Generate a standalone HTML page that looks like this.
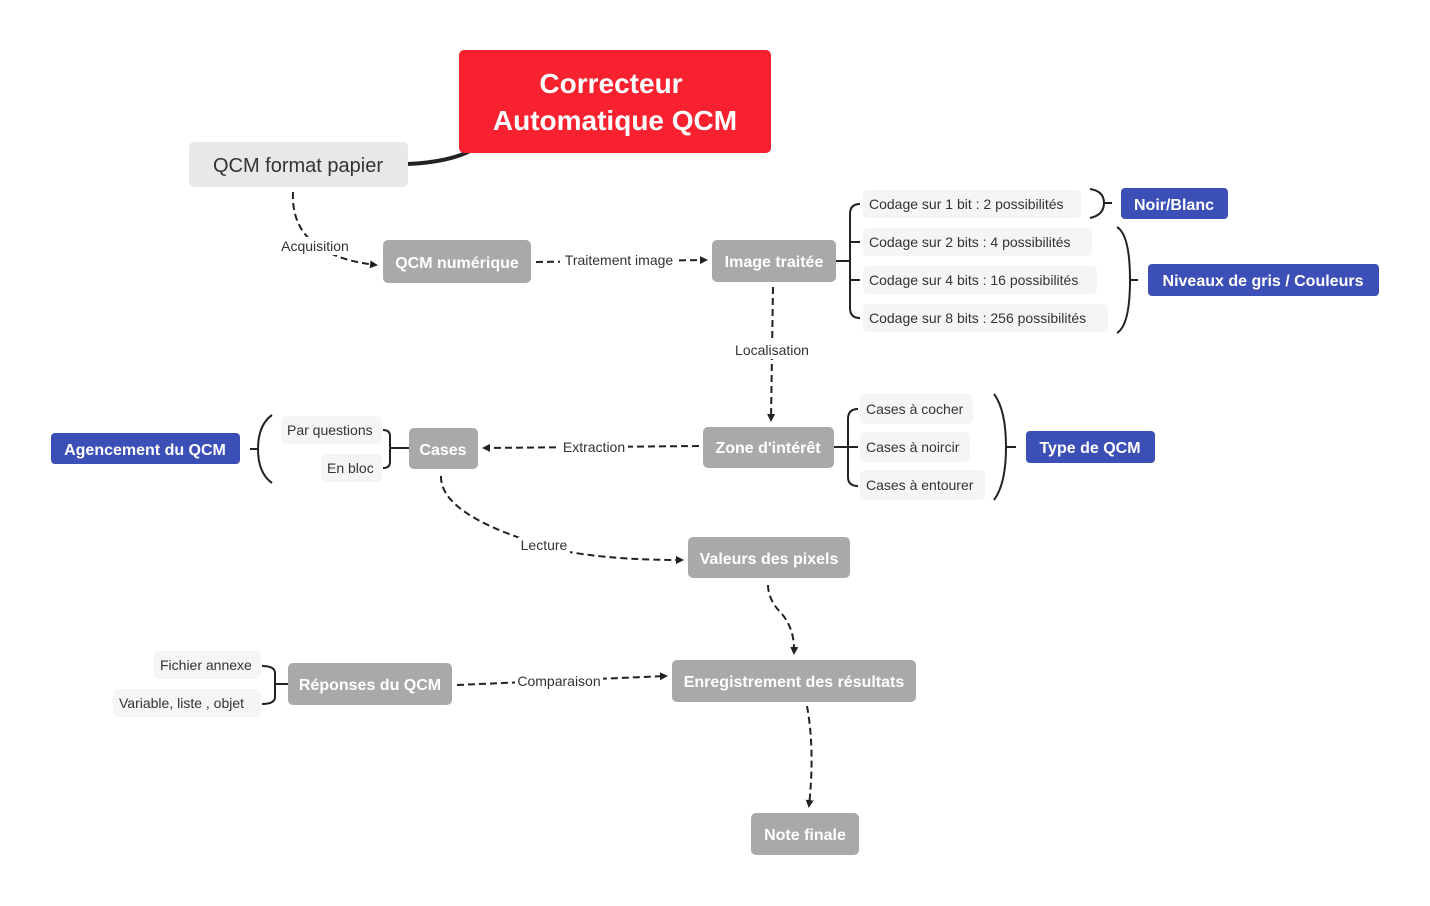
<!DOCTYPE html>
<html><head><meta charset="utf-8"><style>
html,body{margin:0;padding:0;background:#fff}
svg{display:block}
text{font-family:"Liberation Sans",sans-serif}
.g{fill:#a9a9a9}
.gt{fill:#fff;font-weight:bold;font-size:16px;text-anchor:middle}
.b{fill:#3c4fb6}
.l{fill:#f5f5f5}
.lt{fill:#333;font-size:14px}
.lbl{fill:#333;font-size:14px;text-anchor:middle}
.d{fill:none;stroke:#222;stroke-width:2;stroke-dasharray:7,4}
.s{fill:none;stroke:#222;stroke-width:2}
</style></head><body>
<svg width="1430" height="906" viewBox="0 0 1430 906" xmlns="http://www.w3.org/2000/svg">
<defs><marker id="a" markerWidth="8" markerHeight="8" refX="6" refY="4" orient="auto" markerUnits="userSpaceOnUse"><path d="M0,0 L8,4 L0,8 z" fill="#222"/></marker></defs>

<!-- main connection -->
<path d="M408,164 Q450,162 472,150" fill="none" stroke="#222" stroke-width="4"/>
<rect x="459" y="50" width="312" height="103" rx="5" fill="#f7212f"/>
<text x="611" y="93" font-size="28" font-weight="bold" fill="#fff" text-anchor="middle">Correcteur</text>
<text x="615" y="130" font-size="28" font-weight="bold" fill="#fff" text-anchor="middle">Automatique QCM</text>

<rect x="189" y="142" width="219" height="45" rx="5" fill="#e8e8e8"/>
<text x="298" y="172" font-size="20" fill="#333" text-anchor="middle">QCM format papier</text>

<!-- Acquisition -->
<path class="d" d="M293,192 Q290,255 376,265" marker-end="url(#a)"/>
<rect x="278" y="237" width="74" height="18" fill="#fff"/>
<text class="lbl" x="315" y="251">Acquisition</text>

<rect class="g" x="383" y="240" width="148" height="43" rx="5"/>
<text class="gt" x="457" y="268">QCM numérique</text>

<path class="d" d="M536,262 L706,260" marker-end="url(#a)"/>
<rect x="560" y="251" width="118" height="18" fill="#fff"/>
<text class="lbl" x="619" y="265">Traitement image</text>

<rect class="g" x="712" y="240" width="124" height="42" rx="5"/>
<text class="gt" x="774" y="267">Image traitée</text>

<!-- Image traitee bracket -->
<path class="s" d="M836,261 H849 M860,204 Q850,204 850,214 V308 Q850,318 860,318 M850,242 Q850,242 860,242 M850,280 H860"/>
<rect class="l" x="863" y="190" width="218" height="28" rx="5"/><text class="lt" x="869" y="209">Codage sur 1 bit : 2 possibilités</text>
<rect class="l" x="863" y="228" width="229" height="28" rx="5"/><text class="lt" x="869" y="247">Codage sur 2 bits : 4 possibilités</text>
<rect class="l" x="863" y="266" width="234" height="28" rx="5"/><text class="lt" x="869" y="285">Codage sur 4 bits : 16 possibilités</text>
<rect class="l" x="863" y="304" width="245" height="28" rx="5"/><text class="lt" x="869" y="323">Codage sur 8 bits : 256 possibilités</text>

<path class="s" d="M1090,189 Q1104,191 1104,203 Q1104,215 1090,218 M1104,203 H1112"/>
<path class="s" d="M1117,227 Q1130,235 1130,280 Q1130,325 1117,333 M1130,280 H1138"/>
<rect class="b" x="1121" y="188" width="107" height="31" rx="4"/>
<text class="gt" x="1174" y="210">Noir/Blanc</text>
<rect class="b" x="1148" y="264" width="231" height="32" rx="4"/>
<text class="gt" x="1263" y="286">Niveaux de gris / Couleurs</text>

<!-- Localisation -->
<path class="d" d="M773,287 L771,420" marker-end="url(#a)"/>
<rect x="733" y="341" width="80" height="18" fill="#fff"/>
<text class="lbl" x="772" y="355">Localisation</text>

<rect class="g" x="703" y="427" width="131" height="41" rx="5"/>
<text class="gt" x="768" y="453">Zone d'intérêt</text>

<path class="s" d="M834,447 H847 M858,409 Q848,409 848,419 V477 Q848,486 858,486 M848,447 H858"/>
<rect class="l" x="860" y="394" width="113" height="30" rx="5"/><text class="lt" x="866" y="414">Cases à cocher</text>
<rect class="l" x="860" y="432" width="110" height="30" rx="5"/><text class="lt" x="866" y="452">Cases à noircir</text>
<rect class="l" x="860" y="470" width="125" height="30" rx="5"/><text class="lt" x="866" y="490">Cases à entourer</text>
<path class="s" d="M994,394 Q1006,410 1006,447 Q1006,484 994,500 M1006,447 H1016"/>
<rect class="b" x="1026" y="431" width="129" height="32" rx="4"/>
<text class="gt" x="1090" y="453">Type de QCM</text>

<!-- Extraction -->
<path class="d" d="M699,446 L484,448" marker-end="url(#a)"/>
<rect x="560" y="438" width="68" height="18" fill="#fff"/>
<text class="lbl" x="594" y="452">Extraction</text>

<rect class="g" x="409" y="428" width="69" height="41" rx="5"/>
<text class="gt" x="443" y="455">Cases</text>

<path class="s" d="M409,448 H396 M383,430 Q390,430 390,436 V462 Q390,468 383,468 M390,448 H396"/>
<rect class="l" x="281" y="416" width="101" height="28" rx="5"/><text class="lt" x="287" y="435">Par questions</text>
<rect class="l" x="321" y="454" width="61" height="28" rx="5"/><text class="lt" x="327" y="473">En bloc</text>
<path class="s" d="M272,415 Q258,425 258,449 Q258,473 272,483 M258,449 H250"/>
<rect class="b" x="51" y="433" width="189" height="31" rx="4"/>
<text class="gt" x="145" y="455">Agencement du QCM</text>

<!-- Lecture -->
<path class="d" d="M441,476 Q440,510 520,538 Q570,560 682,560" marker-end="url(#a)"/>
<rect x="518" y="537" width="52" height="17" fill="#fff"/>
<text class="lbl" x="544" y="550">Lecture</text>

<rect class="g" x="688" y="537" width="162" height="41" rx="5"/>
<text class="gt" x="769" y="564">Valeurs des pixels</text>

<path class="d" d="M768,585 Q768,600 782,614 Q795,630 794,653" marker-end="url(#a)"/>

<rect class="g" x="672" y="660" width="244" height="42" rx="5"/>
<text class="gt" x="794" y="687">Enregistrement des résultats</text>

<path class="d" d="M807,706 Q815,750 809,806" marker-end="url(#a)"/>

<rect class="g" x="751" y="813" width="108" height="42" rx="5"/>
<text class="gt" x="805" y="840">Note finale</text>

<!-- Comparaison -->
<path class="d" d="M457,685 L666,676" marker-end="url(#a)"/>
<rect x="515" y="672" width="88" height="18" fill="#fff"/>
<text class="lbl" x="559" y="686">Comparaison</text>

<rect class="g" x="288" y="663" width="164" height="42" rx="5"/>
<text class="gt" x="370" y="690">Réponses du QCM</text>

<path class="s" d="M288,684 H275 M262,666 Q275,666 275,673 V697 Q275,704 262,704 M275,684 H282"/>
<rect class="l" x="154" y="651" width="107" height="28" rx="5"/><text class="lt" x="160" y="670">Fichier annexe</text>
<rect class="l" x="113" y="689" width="148" height="28" rx="5"/><text class="lt" x="119" y="708">Variable, liste , objet</text>
</svg>
</body></html>
